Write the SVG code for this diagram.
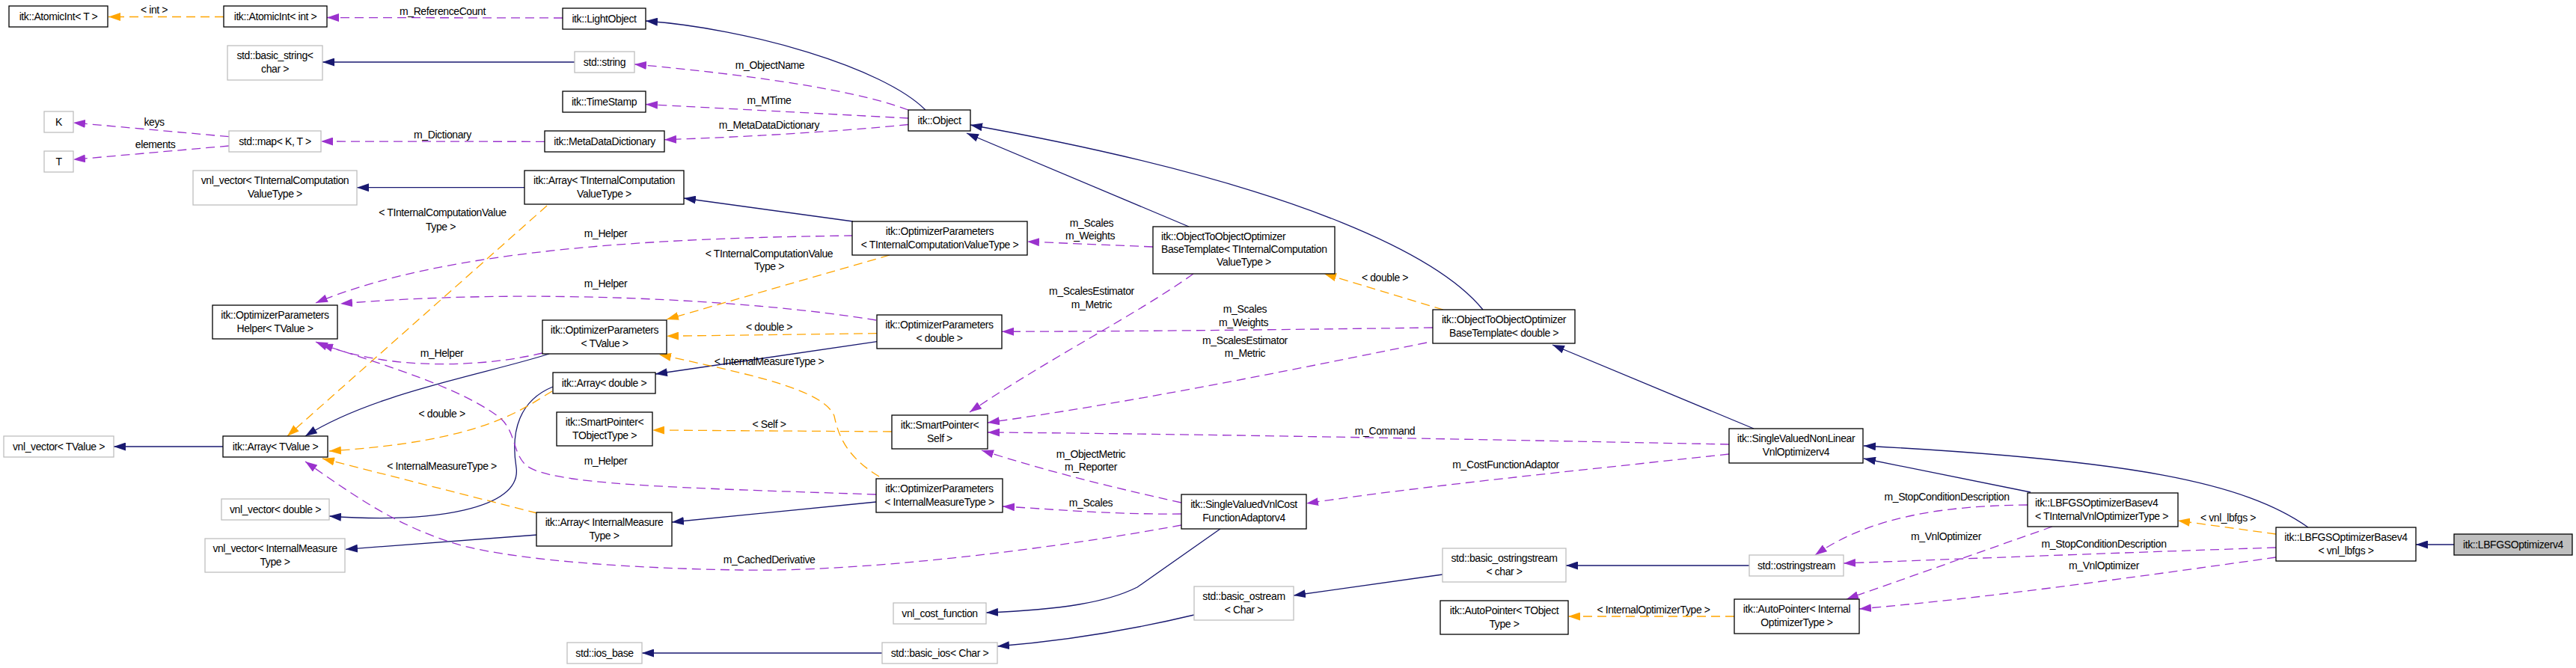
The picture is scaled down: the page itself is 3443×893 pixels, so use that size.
<svg xmlns="http://www.w3.org/2000/svg" width="3443" height="893" viewBox="0 0 3443 893">
<style>
text{font-family:"Liberation Sans",Arial,sans-serif;font-size:14px;letter-spacing:-0.4px;fill:#000;text-anchor:middle}
text.l{text-anchor:start}
.nd rect{fill:#fff;stroke:#000;stroke-width:1.3}
.gr rect{stroke:#bfbfbf}
.cur rect{fill:#bfbfbf}
#edges path{fill:none;stroke-width:1.3}
#edges path.i{stroke:#191970;marker-end:url(#ai)}
#edges path.u{stroke:#9a32cd;stroke-dasharray:12,7;marker-end:url(#au)}
#edges path.t{stroke:#ffa500;stroke-dasharray:12,7;marker-end:url(#at)}
</style>
<defs>
<marker id="ai" markerUnits="userSpaceOnUse" markerWidth="16" markerHeight="11" refX="16" refY="5.5" orient="auto"><path d="M0,0 L16,5.5 L0,11 z" fill="#191970" stroke="none"/></marker>
<marker id="au" markerUnits="userSpaceOnUse" markerWidth="16" markerHeight="11" refX="16" refY="5.5" orient="auto"><path d="M0,0 L16,5.5 L0,11 z" fill="#9a32cd" stroke="none"/></marker>
<marker id="at" markerUnits="userSpaceOnUse" markerWidth="16" markerHeight="11" refX="16" refY="5.5" orient="auto"><path d="M0,0 L16,5.5 L0,11 z" fill="#ffa500" stroke="none"/></marker>
</defs>
<rect width="3443" height="893" fill="#fff"/>
<g id="edges">
<path class="t" d="M299,22.5 L145,22.5"/>
<path class="u" d="M752,24 L437,23.5"/>
<path class="i" d="M768,83 L431,83"/>
<path class="u" d="M306,182.7 L98,164"/>
<path class="u" d="M306,195 L98,213.3"/>
<path class="u" d="M728,189.3 L429,189"/>
<path class="i" d="M701,250.7 L477,250.7"/>
<path class="i" d="M298,597 L152,597"/>
<path class="i" d="M1237,147 C1180,90 1000,38 863,28"/>
<path class="u" d="M1214,147 C1130,115 950,95 848,86"/>
<path class="u" d="M1214,158 C1100,152 950,144 863,139.5"/>
<path class="u" d="M1214,166.5 C1120,176 980,184 888,186.7"/>
<path class="i" d="M1589,303 L1292,178"/>
<path class="i" d="M1982,414 C1930,350 1760,250 1297,167"/>
<path class="i" d="M1140,296 L914,265"/>
<path class="u" d="M1140,315 C900,318 600,330 422,405"/>
<path class="t" d="M1189,341 L891,427"/>
<path class="t" d="M731,275 L384,583"/>
<path class="u" d="M1171,428 C1000,400 700,385 455,406"/>
<path class="t" d="M1172,445.7 L891,449.3"/>
<path class="i" d="M1172,456.7 L876,500"/>
<path class="u" d="M725,472 C650,490 520,498 422,457"/>
<path class="i" d="M734,473 C650,500 500,525 408,583"/>
<path class="i" d="M739,517 C695,535 682,575 690,625 C698,680 580,700 440,690"/>
<path class="t" d="M738,523 C700,545 650,590 440,603"/>
<path class="t" d="M718,686 L431,613"/>
<path class="i" d="M718,715 L462,734.3"/>
<path class="i" d="M1171,671 L898,698"/>
<path class="u" d="M1171,661 C900,652 735,648 703,622 C685,605 690,580 670,560 C620,520 520,490 429,460"/>
<path class="t" d="M1175,637 C1130,610 1120,580 1115,556 C1100,520 1000,500 881,474"/>
<path class="t" d="M1192,577 L872,575"/>
<path class="u" d="M1541,330 L1373,323"/>
<path class="u" d="M1595,366 C1520,420 1400,480 1296,551"/>
<path class="u" d="M1915,438 C1700,441 1500,443 1339,443.3"/>
<path class="t" d="M1929,414 L1770,366"/>
<path class="u" d="M1907,458 C1700,500 1500,540 1320,565"/>
<path class="i" d="M2344,573 L2075,461"/>
<path class="u" d="M2311,594 C2000,588 1600,580 1320,578"/>
<path class="u" d="M2311,607 C2100,630 1900,650 1746,673"/>
<path class="u" d="M1579,672 C1480,650 1400,630 1312,602"/>
<path class="u" d="M1579,687 C1480,688 1400,680 1340,677"/>
<path class="u" d="M1579,702 C1400,735 1150,765 990,762 C850,760 700,750 620,730 C530,705 470,660 408,617"/>
<path class="i" d="M1631,707 L1520,785 C1480,805 1420,815 1318,819"/>
<path class="i" d="M1596,822 C1500,845 1420,857 1333,864"/>
<path class="i" d="M1179,873 L858,873"/>
<path class="i" d="M1928,768 L1729,796"/>
<path class="i" d="M2338,756 L2093,756"/>
<path class="t" d="M2318,824 L2096,824"/>
<path class="i" d="M2714,658 L2491,613"/>
<path class="i" d="M3085,705 C3000,645 2850,615 2491,596"/>
<path class="u" d="M2710,675 C2600,676 2500,690 2426,742"/>
<path class="u" d="M2743,704 L2468,801"/>
<path class="u" d="M3042,732 C2800,740 2600,748 2464,753"/>
<path class="u" d="M3042,745 C2850,772 2650,800 2485,814"/>
<path class="t" d="M3042,714 L2911,696"/>
<path class="i" d="M3280,728 L3229,728"/>
<text x="206" y="18.3">&lt; int &gt;</text>
<text x="591.5" y="19.7">m_ReferenceCount</text>
<text x="206" y="168">keys</text>
<text x="207.6" y="197.7">elements</text>
<text x="591.5" y="185">m_Dictionary</text>
<text x="591.5" y="289.3">&lt; TInternalComputationValue</text>
<text x="589" y="307.7">Type &gt;</text>
<text x="1029" y="91.7">m_ObjectName</text>
<text x="1028" y="139.3">m_MTime</text>
<text x="1028" y="171.7">m_MetaDataDictionary</text>
<text x="809.5" y="316.7">m_Helper</text>
<text x="1028" y="344">&lt; TInternalComputationValue</text>
<text x="1028" y="361">Type &gt;</text>
<text x="809.5" y="384.3">m_Helper</text>
<text x="1028" y="441.7">&lt; double &gt;</text>
<text x="1028" y="488.3">&lt; InternalMeasureType &gt;</text>
<text x="1028" y="571.7">&lt; Self &gt;</text>
<text x="590.6" y="476.7">m_Helper</text>
<text x="590.6" y="557.7">&lt; double &gt;</text>
<text x="590.6" y="627.7">&lt; InternalMeasureType &gt;</text>
<text x="809.5" y="620.7">m_Helper</text>
<text x="1028" y="753.3">m_CachedDerivative</text>
<text x="1459" y="303.3">m_Scales</text>
<text x="1457" y="320.3">m_Weights</text>
<text x="1851" y="375.7">&lt; double &gt;</text>
<text x="1459" y="393.7">m_ScalesEstimator</text>
<text x="1459" y="411.7">m_Metric</text>
<text x="1664" y="417.7">m_Scales</text>
<text x="1662" y="435.7">m_Weights</text>
<text x="1664" y="460.3">m_ScalesEstimator</text>
<text x="1664" y="477.3">m_Metric</text>
<text x="1851" y="580.7">m_Command</text>
<text x="1458" y="612.3">m_ObjectMetric</text>
<text x="1458" y="629.3">m_Reporter</text>
<text x="2012.6" y="625.7">m_CostFunctionAdaptor</text>
<text x="1458" y="677.3">m_Scales</text>
<text x="2602" y="669.3">m_StopConditionDescription</text>
<text x="2601" y="721.7">m_VnlOptimizer</text>
<text x="2210" y="820">&lt; InternalOptimizerType &gt;</text>
<text x="2978" y="696.7">&lt; vnl_lbfgs &gt;</text>
<text x="2812" y="731.7">m_StopConditionDescription</text>
<text x="2812" y="760.7">m_VnlOptimizer</text>
</g>
<g id="n_atomicT" class="nd"><rect x="12" y="8" width="132" height="28"/><text x="78" y="27">itk::AtomicInt&lt; T &gt;</text></g>
<g id="n_atomicInt" class="nd"><rect x="299" y="8" width="138" height="28"/><text x="368" y="27">itk::AtomicInt&lt; int &gt;</text></g>
<g id="n_basicString" class="nd gr"><rect x="304" y="61" width="127" height="46"/><text x="367.5" y="79">std::basic_string&lt;</text><text x="367.5" y="97">char &gt;</text></g>
<g id="n_K" class="nd gr"><rect x="59" y="149" width="39" height="28"/><text x="78.5" y="168">K</text></g>
<g id="n_T" class="nd gr"><rect x="59" y="202" width="39" height="28"/><text x="78.5" y="221">T</text></g>
<g id="n_map" class="nd gr"><rect x="306" y="175" width="123" height="28"/><text x="367.5" y="194">std::map&lt; K, T &gt;</text></g>
<g id="n_vnlTIC" class="nd gr"><rect x="258" y="228" width="219" height="46"/><text x="367.5" y="246">vnl_vector&lt; TInternalComputation</text><text x="367.5" y="264">ValueType &gt;</text></g>
<g id="n_helper" class="nd"><rect x="284" y="408" width="167" height="45"/><text x="367.5" y="425.5">itk::OptimizerParameters</text><text x="367.5" y="443.5">Helper&lt; TValue &gt;</text></g>
<g id="n_vnlTValue" class="nd gr"><rect x="5" y="583" width="147" height="28"/><text x="78.5" y="602">vnl_vector&lt; TValue &gt;</text></g>
<g id="n_arrayTValue" class="nd"><rect x="298" y="583" width="140" height="28"/><text x="368" y="602">itk::Array&lt; TValue &gt;</text></g>
<g id="n_vnlDouble" class="nd gr"><rect x="296" y="667" width="144" height="28"/><text x="368" y="686">vnl_vector&lt; double &gt;</text></g>
<g id="n_vnlIMT" class="nd gr"><rect x="274" y="720" width="187" height="45"/><text x="367.5" y="737.5">vnl_vector&lt; InternalMeasure</text><text x="367.5" y="755.5">Type &gt;</text></g>
<g id="n_lightObject" class="nd"><rect x="752" y="11" width="111" height="28"/><text x="807.5" y="30">itk::LightObject</text></g>
<g id="n_stdString" class="nd gr"><rect x="768" y="69" width="80" height="28"/><text x="808" y="88">std::string</text></g>
<g id="n_timeStamp" class="nd"><rect x="752" y="122" width="111" height="28"/><text x="807.5" y="141">itk::TimeStamp</text></g>
<g id="n_metaDict" class="nd"><rect x="728" y="175" width="160" height="28"/><text x="808" y="194">itk::MetaDataDictionary</text></g>
<g id="n_arrayTIC" class="nd"><rect x="701" y="228" width="213" height="45"/><text x="807.5" y="245.5">itk::Array&lt; TInternalComputation</text><text x="807.5" y="263.5">ValueType &gt;</text></g>
<g id="n_object" class="nd"><rect x="1214" y="147" width="83" height="28"/><text x="1255.5" y="166">itk::Object</text></g>
<g id="n_optTIC" class="nd"><rect x="1139" y="296" width="234" height="45"/><text x="1256" y="313.5">itk::OptimizerParameters</text><text x="1256" y="331.5">&lt; TInternalComputationValueType &gt;</text></g>
<g id="n_optTValue" class="nd"><rect x="725" y="428" width="166" height="45"/><text x="808" y="445.5">itk::OptimizerParameters</text><text x="808" y="463.5">&lt; TValue &gt;</text></g>
<g id="n_optDouble" class="nd"><rect x="1172" y="421" width="167" height="45"/><text x="1255.5" y="438.5">itk::OptimizerParameters</text><text x="1255.5" y="456.5">&lt; double &gt;</text></g>
<g id="n_arrayDouble" class="nd"><rect x="739" y="498" width="137" height="28"/><text x="807.5" y="517">itk::Array&lt; double &gt;</text></g>
<g id="n_spTObj" class="nd"><rect x="744" y="551" width="128" height="45"/><text x="808" y="568.5">itk::SmartPointer&lt;</text><text x="808" y="586.5">TObjectType &gt;</text></g>
<g id="n_spSelf" class="nd"><rect x="1192" y="555" width="128" height="45"/><text x="1256" y="572.5">itk::SmartPointer&lt;</text><text x="1256" y="590.5">Self &gt;</text></g>
<g id="n_optIMT" class="nd"><rect x="1171" y="640" width="169" height="45"/><text x="1255.5" y="657.5">itk::OptimizerParameters</text><text x="1255.5" y="675.5">&lt; InternalMeasureType &gt;</text></g>
<g id="n_arrayIMT" class="nd"><rect x="717" y="685" width="181" height="45"/><text x="807.5" y="702.5">itk::Array&lt; InternalMeasure</text><text x="807.5" y="720.5">Type &gt;</text></g>
<g id="n_vnlCost" class="nd gr"><rect x="1194" y="806" width="124" height="28"/><text x="1256" y="825">vnl_cost_function</text></g>
<g id="n_iosBase" class="nd gr"><rect x="758" y="859" width="100" height="28"/><text x="808" y="878">std::ios_base</text></g>
<g id="n_basicIos" class="nd gr"><rect x="1179" y="859" width="154" height="28"/><text x="1256" y="878">std::basic_ios&lt; Char &gt;</text></g>
<g id="n_otooTIC" class="nd"><rect x="1541" y="303" width="243" height="63"/><text class="l" x="1552" y="321">itk::ObjectToObjectOptimizer</text><text class="l" x="1552" y="338">BaseTemplate&lt; TInternalComputation</text><text x="1662.5" y="355">ValueType &gt;</text></g>
<g id="n_otooDouble" class="nd"><rect x="1915" y="414" width="190" height="45"/><text x="2010" y="431.5">itk::ObjectToObjectOptimizer</text><text x="2010" y="449.5">BaseTemplate&lt; double &gt;</text></g>
<g id="n_svvcfa" class="nd"><rect x="1579" y="661" width="167" height="46"/><text x="1662.5" y="679">itk::SingleValuedVnlCost</text><text x="1662.5" y="697">FunctionAdaptorv4</text></g>
<g id="n_basicOstringstream" class="nd gr"><rect x="1928" y="733" width="165" height="45"/><text x="2010.5" y="750.5">std::basic_ostringstream</text><text x="2010.5" y="768.5">&lt; char &gt;</text></g>
<g id="n_basicOstream" class="nd gr"><rect x="1596" y="784" width="133" height="45"/><text x="1662.5" y="801.5">std::basic_ostream</text><text x="1662.5" y="819.5">&lt; Char &gt;</text></g>
<g id="n_autoPtrT" class="nd"><rect x="1925" y="803" width="171" height="45"/><text x="2010.5" y="820.5">itk::AutoPointer&lt; TObject</text><text x="2010.5" y="838.5">Type &gt;</text></g>
<g id="n_svnlv" class="nd"><rect x="2311" y="573" width="179" height="46"/><text x="2400.5" y="591">itk::SingleValuedNonLinear</text><text x="2400.5" y="609">VnlOptimizerv4</text></g>
<g id="n_ostringstream" class="nd gr"><rect x="2338" y="742" width="126" height="28"/><text x="2401" y="761">std::ostringstream</text></g>
<g id="n_autoPtrIOT" class="nd"><rect x="2318" y="801" width="167" height="46"/><text x="2401.5" y="819">itk::AutoPointer&lt; Internal</text><text x="2401.5" y="837">OptimizerType &gt;</text></g>
<g id="n_lbfgsTIVOT" class="nd"><rect x="2710" y="659" width="201" height="45"/><text class="l" x="2720" y="676.5">itk::LBFGSOptimizerBasev4</text><text class="l" x="2720" y="694.5">&lt; TInternalVnlOptimizerType &gt;</text></g>
<g id="n_lbfgsVnl" class="nd"><rect x="3042" y="705" width="187" height="45"/><text x="3135.5" y="722.5">itk::LBFGSOptimizerBasev4</text><text x="3135.5" y="740.5">&lt; vnl_lbfgs &gt;</text></g>
<g id="n_lbfgsv4" class="nd cur"><rect x="3280" y="714" width="158" height="28"/><text x="3359" y="733">itk::LBFGSOptimizerv4</text></g>
</svg>
